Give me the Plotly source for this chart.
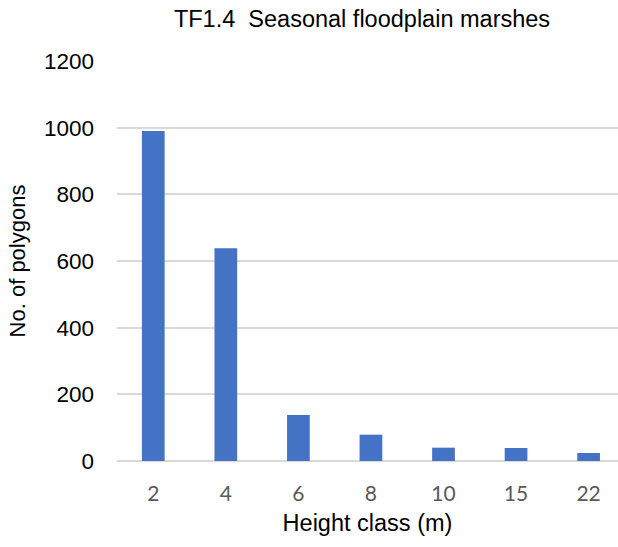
import plotly.graph_objects as go

# Height classes (m) and polygon counts
height_classes = ["2", "4", "6", "8", "10", "15", "22"]
polygon_counts = [990, 638, 138, 79, 40, 39, 24]
y_ticks = [0, 200, 400, 600, 800, 1000, 1200]

ARIAL = "Liberation Sans, Arial, sans-serif"

fig = go.Figure(
    go.Bar(
        x=height_classes,
        y=polygon_counts,
        marker=dict(color="#4472C4", line=dict(width=0)),
    )
)

fig.update_layout(
    width=618,
    height=547,
    margin=dict(l=117, r=0, t=61, b=86),
    paper_bgcolor="white",
    plot_bgcolor="white",
    bargap=0.687,
    showlegend=False,
    title=dict(
        text="TF1.4  Seasonal floodplain marshes",
        x=362 / 618,
        xanchor="center",
        y=1 - 19 / 547,
        yanchor="middle",
        font=dict(family=ARIAL, size=23.5, color="#000000"),
    ),
)

fig.update_xaxes(
    type="category",
    range=[-0.5, 6.405],
    showgrid=False,
    showline=False,
    ticks="",
    ticklabelstandoff=18,
    tickfont=dict(family="Lato, Open Sans, sans-serif", size=21, color="#595959"),
    title=dict(
        text="Height class (m)",
        standoff=10,
        font=dict(family=ARIAL, size=23.5, color="#000000"),
    ),
)

fig.update_yaxes(
    range=[0, 1200],
    tickvals=y_ticks,
    showgrid=True,
    gridcolor="#D9D9D9",
    gridwidth=2,
    zeroline=True,
    zerolinecolor="#D9D9D9",
    zerolinewidth=2,
    showline=False,
    ticks="",
    ticklabelstandoff=22,
    tickfont=dict(family=ARIAL, size=22.5, color="#000000"),
    title=dict(
        text="No. of polygons",
        standoff=12,
        font=dict(family=ARIAL, size=22, color="#000000"),
    ),
)

fig.write_html("out.html")
